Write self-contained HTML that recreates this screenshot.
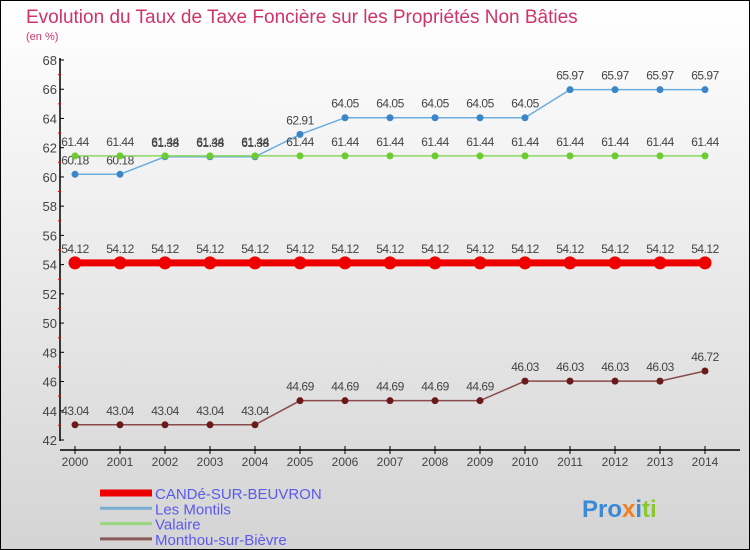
<!DOCTYPE html>
<html><head><meta charset="utf-8"><style>
body{margin:0}
#c{width:750px;height:550px;position:relative;box-sizing:border-box;border:1px solid #000;background:linear-gradient(#fff,#d4d4d4);font-family:"Liberation Sans",sans-serif;overflow:hidden}
</style></head><body>
<div id="c">
<svg id="s" width="750" height="550" style="position:absolute;left:-1px;top:-1px"></svg>
</div>
<script>
const years=[2000,2001,2002,2003,2004,2005,2006,2007,2008,2009,2010,2011,2012,2013,2014];
const yTicks=[42,44,46,48,50,52,54,56,58,60,62,64,66,68];
const candeVals=[54.12,54.12,54.12,54.12,54.12,54.12,54.12,54.12,54.12,54.12,54.12,54.12,54.12,54.12,54.12];
const montilsVals=[60.18,60.18,61.38,61.38,61.38,62.91,64.05,64.05,64.05,64.05,64.05,65.97,65.97,65.97,65.97];
const valaireVals=[61.44,61.44,61.44,61.44,61.44,61.44,61.44,61.44,61.44,61.44,61.44,61.44,61.44,61.44,61.44];
const monthouVals=[43.04,43.04,43.04,43.04,43.04,44.69,44.69,44.69,44.69,44.69,46.03,46.03,46.03,46.03,46.72];
const seriesNames=["CANDé-SUR-BEUVRON","Les Montils","Valaire","Monthou-sur-Bièvre"];
const NS="http://www.w3.org/2000/svg",s=document.getElementById('s');
const X=i=>75+i*45, Y=v=>440-(v-42)*(380/26);
function el(t,a,txt){const e=document.createElementNS(NS,t);for(const k in a)e.setAttribute(k,a[k]);if(txt!==undefined)e.textContent=txt;s.appendChild(e);return e;}
let e;
e=el('text',{x:26,y:23,'font-size':19,fill:'#d0336a'},'Evolution du Taux de Taxe Foncière sur les Propriétés Non Bâties');


e=el('text',{x:26,y:40,'font-size':11,fill:'#d0336a'},'(en %)');


e=el('line',{x1:60,y1:58,x2:60,y2:441,stroke:'#000','stroke-width':1.5});


e=el('line',{x1:60,y1:450,x2:740,y2:450,stroke:'#000','stroke-width':1.5});


yTicks.forEach(v=>{
 el('line',{x1:60,y1:Y(v),x2:64,y2:Y(v),stroke:'#000'});
 if(v<68)el('line',{x1:58,y1:Y(v+1),x2:61,y2:Y(v+1),stroke:'#e00'});
 e=el('text',{x:57,y:Y(v)+5,'font-size':13,fill:'#444','text-anchor':'end'},v);
 
 
});
years.forEach((yr,i)=>{
 el('line',{x1:X(i),y1:446,x2:X(i),y2:454,stroke:'#000'});
 e=el('text',{x:X(i),y:466,'font-size':12,fill:'#444','text-anchor':'middle'},yr);
 
 
});
function series(vals,color,lw,r,dot,name){
 const g=document.createElementNS(NS,'g');s.appendChild(g);
 
 
 const p=document.createElementNS(NS,'polyline');
 p.setAttribute('points',vals.map((v,i)=>X(i)+','+Y(v)).join(' '));
 p.setAttribute('fill','none');p.setAttribute('stroke',color);p.setAttribute('stroke-width',lw);
 g.appendChild(p);
 vals.forEach((v,i)=>{
  const c=document.createElementNS(NS,'circle');
  c.setAttribute('cx',X(i));c.setAttribute('cy',Y(v));c.setAttribute('r',r);c.setAttribute('fill',dot);
  
  
  g.appendChild(c);
  const t=document.createElementNS(NS,'text');
  t.setAttribute('x',X(i));t.setAttribute('y',Y(v)-10);t.setAttribute('font-size',12);t.setAttribute('fill','#444');t.setAttribute('text-anchor','middle');
  t.setAttribute('letter-spacing','-0.5');
  t.textContent=v.toFixed(2);
  
  
  g.appendChild(t);
 });
}
series(monthouVals,'#8a4a4a',1.5,3.5,'#6b1a1a','series-monthou');
series(candeVals,'#ee0000',7,6.5,'#ee0000','series-cande');
series(montilsVals,'#6aaee0',1.5,3.5,'#3a86c8','series-les-montils');
series(valaireVals,'#8ad860',1.5,3.5,'#6ccc30','series-valaire');
const legCol=['#ee0000','#7aaed0','#98d880','#8a5a5a'],legW=[7,3,3,3];
seriesNames.forEach((n,i)=>{
 const y=493+i*15.3;
 e=el('line',{x1:100,y1:y,x2:152,y2:y,stroke:legCol[i],'stroke-width':legW[i]});
 
 
 e=el('text',{x:155,y:y+6,'font-size':15,fill:'#5a5aee'},n);
 
 
});
e=el('text',{x:582,y:517,'font-size':24,'font-weight':'bold',fill:'#3a9ad8'});
e.innerHTML='<tspan fill="#3a8ad8">Pro</tspan><tspan fill="#f08020">x</tspan><tspan fill="#3a8ad8">i</tspan><tspan fill="#8ac830">ti</tspan>';


</script>
</body></html>
